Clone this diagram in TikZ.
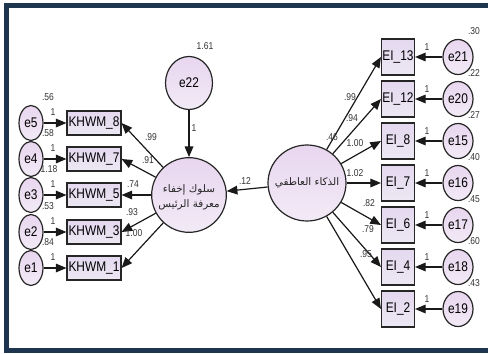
\documentclass[tikz,border=0pt]{standalone}
\usepackage{fontspec}
\setmainfont{Liberation Sans}[FakeStretch=0.85]
\newfontfamily\arabicfont[Script=Arabic]{DejaVu Sans}
\TeXXeTstate=1
\usetikzlibrary{arrows.meta,shapes.geometric}
\definecolor{navy}{HTML}{1E3550}
\definecolor{boxA}{HTML}{E4D8EF}
\definecolor{boxB}{HTML}{ECE8F3}
\definecolor{ellA}{HTML}{E8D6EF}
\definecolor{ellB}{HTML}{F2EAF6}
\definecolor{lab}{HTML}{333333}
\begin{document}
\begin{tikzpicture}[x=0.75pt,y=-0.75pt,
  obsbox/.style={draw=black!85, line width=0.8pt, top color=boxA, bottom color=boxB, inner sep=0pt, font=\fontsize{10.5}{10.5}\selectfont},
  kbox/.style={obsbox, minimum width=40.5pt, minimum height=18pt},
  eibox/.style={obsbox, minimum width=24.75pt, minimum height=27pt},
  errell/.style={ellipse, draw=black!85, line width=0.9pt, top color=ellA, bottom color=ellB, inner sep=0pt, font=\fontsize{10.5}{10.5}\selectfont},
  lerr/.style={errell, minimum width=18pt, minimum height=26.25pt},
  rerr/.style={errell, minimum width=22.5pt, minimum height=26.25pt},
  latent/.style={ellipse, draw=black!85, line width=0.9pt, top color=ellA, bottom color=ellB, inner sep=0pt},
  arr/.style={line width=0.9pt, black!90, -{Triangle[length=8pt,width=6.5pt]}},
  lbl/.style={inner sep=0pt, text=lab, font=\fontsize{7.5}{7.5}\selectfont},
  arab/.style={inner sep=0pt, align=center, text=black!85, font=\arabicfont\fontsize{7.8}{11}\selectfont}
]
\useasboundingbox[fill=white] (0,0) rectangle (488,353);
% frame
\fill[navy] (4,3) rectangle (488,8.3);
\fill[navy] (4,3) rectangle (9.3,353);
\fill[navy] (4,348.3) rectangle (488,353);

% left side
\node[lerr] (e5) at (31,123) {e5};
\node[lerr] (e4) at (31,159) {e4};
\node[lerr] (e3) at (31,195) {e3};
\node[lerr] (e2) at (31,232) {e2};
\node[lerr] (e1) at (31,268) {e1};
\node[kbox] (k8) at (94,123) {KHWM\_8};
\node[kbox] (k7) at (94,159) {KHWM\_7};
\node[kbox] (k5) at (94,195) {KHWM\_5};
\node[kbox] (k3) at (94,232) {KHWM\_3};
\node[kbox] (k1) at (94,268) {KHWM\_1};

\node[latent, minimum width=56pt, minimum height=56pt] (lc) at (189,195) {};
\node[arab] (lct) at (189,197) {\beginR سلوك إخفاء\endR\\\beginR معرفة الرئيس\endR};
\node[errell, minimum width=35.25pt, minimum height=39.75pt] (e22) at (189,83) {e22};

\node[latent, minimum width=58.5pt, minimum height=57pt] (rc) at (307,183) {};
\node[arab] (rct) at (307,183) {\beginR الذكاء العاطفي\endR};

% right side
\node[eibox] (i13) at (398,57) {EI\_13};
\node[eibox] (i12) at (398,99) {EI\_12};
\node[eibox] (i8) at (398,141) {EI\_8};
\node[eibox] (i7) at (398,183) {EI\_7};
\node[eibox] (i6) at (398,225) {EI\_6};
\node[eibox] (i4) at (398,267) {EI\_4};
\node[eibox] (i2) at (398,309) {EI\_2};
\node[rerr] (e21) at (458,57) {e21};
\node[rerr] (e20) at (458,99) {e20};
\node[rerr] (e15) at (458,141) {e15};
\node[rerr] (e16) at (458,183) {e16};
\node[rerr] (e17) at (458,225) {e17};
\node[rerr] (e18) at (458,267) {e18};
\node[rerr] (e19) at (458,309) {e19};

% connectors left
\foreach \e/\k in {e5/k8,e4/k7,e3/k5,e2/k3,e1/k1} \draw[arr] (\e) -- (\k);
\foreach \k in {k8,k7,k5,k3,k1} \draw[arr] (lc) -- (\k.east);
\draw[arr] (e22) -- (lc);
\draw[arr] (rc) -- (lc);
\foreach \i in {i13,i12,i8,i7,i6,i4,i2} \draw[arr] (rc) -- (\i.west);
\foreach \e/\i in {e21/i13,e20/i12,e15/i8,e16/i7,e17/i6,e18/i4,e19/i2} \draw[arr] (\e) -- (\i);

% labels left
\node[lbl] (v5) at (48,97) {.56};
\node[lbl] (v4) at (48,133) {.58};
\node[lbl] (v3) at (49,169) {1.18};
\node[lbl] (v2) at (48,206) {.53};
\node[lbl] (v1) at (48,242) {.84};
\foreach \y/\n in {123/a,159/b,195/c,232/d,268/f} \node[lbl] (one\n) at (53,\y-11) {1};
\node[lbl] (w8) at (151,137) {.99};
\node[lbl] (w7) at (148,160) {.91};
\node[lbl] (w5) at (133,184) {.74};
\node[lbl] (w3) at (132,212) {.93};
\node[lbl] (w1) at (134,233) {1.00};
\node[lbl] (v22) at (205,46) {1.61};
\node[lbl] (one22) at (194,128) {1};
\node[lbl] (b12) at (245,181) {.12};

% labels right
\node[lbl] (vrc) at (332,137) {.46};
\node[lbl] (u13) at (350,97) {.99};
\node[lbl] (u12) at (352,118) {.94};
\node[lbl] (u8) at (355,143) {1.00};
\node[lbl] (u7) at (355,173) {1.02};
\node[lbl] (u6) at (369,203) {.82};
\node[lbl] (u4) at (368,229) {.79};
\node[lbl] (u2) at (366,254) {.95};
\foreach \y/\v/\n in {57/.30/a,99/.22/b,141/.27/c,183/.40/d,225/.45/f,267/.60/g,309/.43/h} {
  \node[lbl] (rv\n) at (474,\y-26) {\v};
  \node[lbl] (ro\n) at (427,\y-10) {1};
}
\end{tikzpicture}
\end{document}
